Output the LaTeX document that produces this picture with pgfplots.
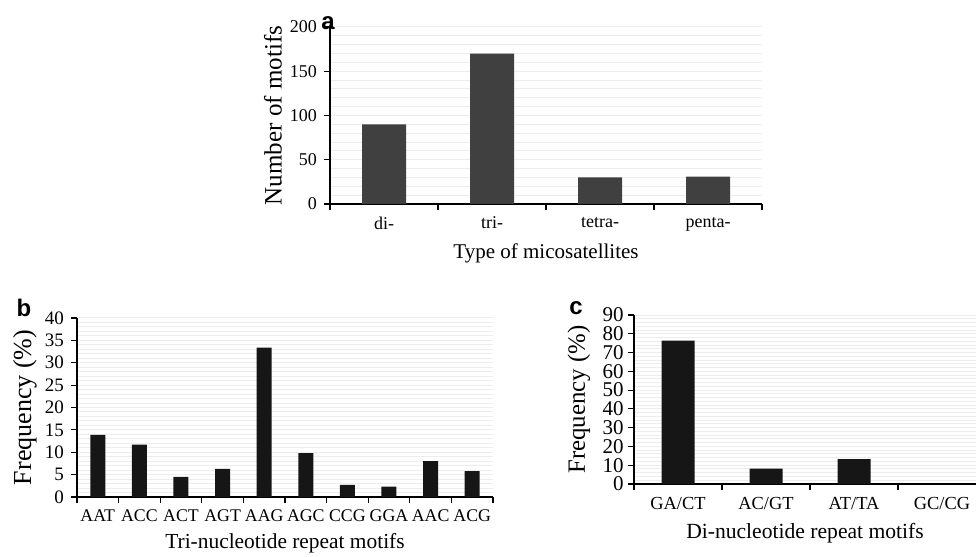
\documentclass[border=0pt]{standalone}
\usepackage{fontspec}
\setmainfont{Liberation Serif}
\newfontfamily\panelfont{Liberation Sans}
\usepackage{pgfplots}
\pgfplotsset{compat=1.18}

\definecolor{bara}{HTML}{404040}
\definecolor{barbc}{HTML}{161616}
\definecolor{gridc}{HTML}{EDEDED}

\pgfplotsset{
  panel/.style={
    scale only axis,
    axis x line*=bottom, axis y line*=left,
    axis line style={black, line width=0.6pt},
    tick style={black, line width=0.6pt},
    tick align=outside,
    major x tick style={draw=none},
    minor y tick style={draw=none},
    minor tick length=3pt,
    major tick length=3pt,
    ymin=0,
    ymajorgrids, yminorgrids,
    major grid style={gridc, line width=0.5pt},
    minor grid style={gridc, line width=0.5pt},
    /pgf/number format/assume math mode=true,
    ybar, bar shift=0pt,
    clip=false,
  },
}

\begin{document}
\begin{tikzpicture}
\path[use as bounding box] (0,0) rectangle (489pt,278pt);

% a: type of microsatellites
\begin{axis}[panel,
  at={(165pt,176pt)}, anchor=south west,
  width=216pt, height=88.5pt,
  xmin=-0.5, xmax=3.5, ymax=200,
  ytick={0,50,...,200}, minor y tick num=4,
  xtick={0,1,2,3}, xticklabels={di-, tri-, tetra-, penta-},
  minor xtick={-0.5,0.5,1.5,2.5,3.5},
  tick label style={font=\fontsize{9}{10}\selectfont},
  xlabel style={font=\fontsize{10.5}{12}\selectfont},
  ylabel style={font=\fontsize{12.5}{13}\selectfont},
  bar width=22pt,
  xlabel={Type of micosatellites},
  ylabel={Number of motifs},
  xlabel style={at={(axis description cs:0.5,-0.277)}, anchor=center},
  ylabel style={at={(axis description cs:-0.132,0.5)}, anchor=center},
]
\addplot[fill=bara, draw=none] coordinates {(0,90) (1,170) (2,30) (3,31)};
\end{axis}

% b: tri-nucleotide motifs
\begin{axis}[panel,
  at={(38.5pt,29.5pt)}, anchor=south west,
  width=208pt, height=89.5pt,
  xmin=-0.5, xmax=9.5, ymax=40,
  ytick={0,5,...,40}, minor y tick num=4,
  xtick={0,...,9},
  xticklabels={AAT, ACC, ACT, AGT, AAG, AGC, CCG, GGA, AAC, ACG},
  minor xtick={-0.5,0.5,...,9.5},
  xticklabel style={font=\fontsize{8.9}{9}\selectfont},
  yticklabel style={font=\fontsize{9.5}{10}\selectfont, inner ysep=1pt},
  xlabel style={font=\fontsize{10.7}{12}\selectfont},
  ylabel style={font=\fontsize{13}{14}\selectfont},
  bar width=7.5pt,
  xlabel={Tri-nucleotide repeat motifs},
  ylabel={Frequency (\%)},
  xlabel style={at={(axis description cs:0.5,-0.257)}, anchor=center},
  ylabel style={at={(axis description cs:-0.125,0.5)}, anchor=center},
]
\addplot[fill=barbc, draw=none] coordinates {
  (0,13.9) (1,11.7) (2,4.5) (3,6.3) (4,33.4)
  (5,9.8) (6,2.7) (7,2.3) (8,8.0) (9,5.8)};
\end{axis}

% c: di-nucleotide motifs
\begin{axis}[panel,
  at={(317pt,36pt)}, anchor=south west,
  width=171pt, height=84.5pt,
  xmin=-0.5, xmax=3.386, ymax=90,
  ytick={0,10,...,90}, minor y tick num=4,
  xtick={0,1,2,3}, xticklabels={GA/CT, AC/GT, AT/TA, GC/CG},
  minor xtick={-0.5,0.5,1.5,2.5},
  xticklabel style={font=\fontsize{9.2}{10}\selectfont},
  yticklabel style={font=\fontsize{10.5}{11}\selectfont, inner ysep=0pt, inner xsep=2pt},
  xlabel style={font=\fontsize{10.8}{12}\selectfont},
  ylabel style={font=\fontsize{12.4}{13}\selectfont},
  bar width=16.5pt,
  xlabel={Di-nucleotide repeat motifs},
  ylabel={Frequency (\%)},
  xlabel style={at={(axis description cs:0.5,-0.29)}, anchor=center},
  ylabel style={at={(axis description cs:-0.161,0.5)}, anchor=center},
]
\addplot[fill=barbc, draw=none] coordinates {(0,76.3) (1,8.2) (2,13.3) (3,0)};
\end{axis}

\node[font=\panelfont\bfseries\fontsize{12}{12}\selectfont] at (164pt,266.5pt) {a};
\node[font=\panelfont\bfseries\fontsize{12}{12}\selectfont] at (12pt,124pt) {b};
\node[font=\panelfont\bfseries\fontsize{12}{12}\selectfont] at (288pt,124pt) {c};
\end{tikzpicture}
\end{document}
